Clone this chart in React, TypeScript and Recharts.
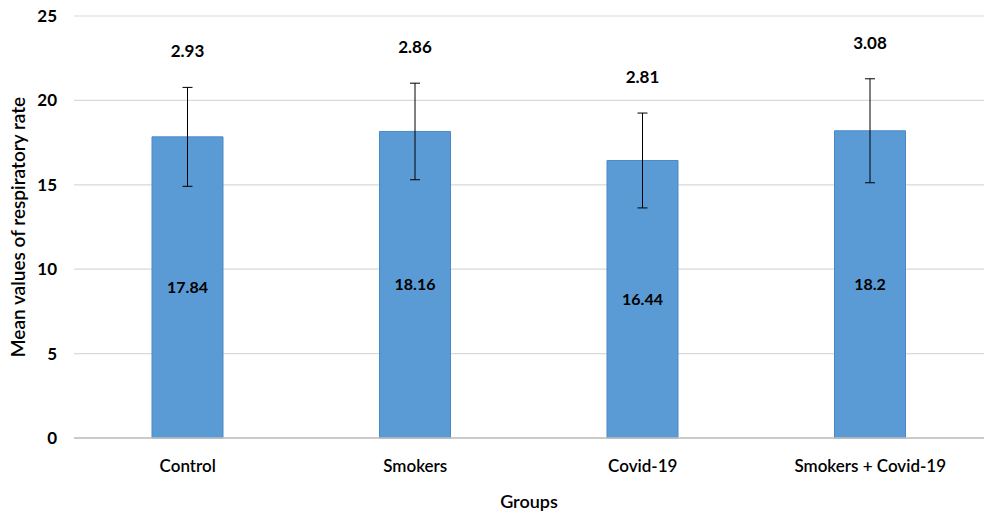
import { BarChart, Bar, XAxis, YAxis, CartesianGrid, ErrorBar, LabelList } from "recharts";

const groups = ["Control", "Smokers", "Covid-19", "Smokers + Covid-19"];
const means = [17.84, 18.16, 16.44, 18.2];
const sds = [2.93, 2.86, 2.81, 3.08];
const yTicks = [0, 5, 10, 15, 20, 25];

const data = groups.map((g, i) => ({ group: g, mean: means[i], sd: sds[i] }));

const FONT = "Lato, 'Open Sans', sans-serif";

// sd label sits above the error bar top
const SdLabel = (props: any) => {
  const { x, y, width, height, index } = props;
  const d = data[index];
  const top = y - (d.sd * height) / d.mean;
  return (
    <text
      x={x + width / 2}
      y={top - 30}
      textAnchor="middle"
      fontSize={17}
      fontWeight={700}
      fill="#000"
      fontFamily={FONT}
    >
      {d.sd}
    </text>
  );
};

export default function App() {
  return (
    <div style={{ position: "absolute", left: 0, top: 0, background: "#fff" }}>
      <BarChart
        width={986}
        height={522}
        data={data}
        margin={{ top: 16, right: 2, bottom: 54, left: 0 }}
      >
        <CartesianGrid vertical={false} stroke="#d9d9d9" strokeWidth={1.2} />
        <XAxis
          dataKey="group"
          axisLine={{ stroke: "#bfbfbf", strokeWidth: 1.5 }}
          tickLine={false}
          tickMargin={16}
          tick={{ fontSize: 17, fontWeight: 600, fill: "#000", fontFamily: FONT }}
          label={{
            value: "Groups",
            position: "insideBottom",
            offset: -40,
            fontSize: 18,
            fontWeight: 600,
            fill: "#000",
            fontFamily: FONT,
          }}
        />
        <YAxis
          width={74}
          domain={[0, 25]}
          ticks={yTicks}
          axisLine={false}
          tickLine={false}
          tickMargin={11}
          tick={{ fontSize: 17, fontWeight: 700, fill: "#000", fontFamily: FONT }}
          label={{
            value: "Mean values of respiratory rate",
            angle: -90,
            position: "insideLeft",
            offset: 18,
            style: { textAnchor: "middle" },
            fontSize: 19,
            fontWeight: 600,
            fill: "#000",
            fontFamily: FONT,
          }}
        />
        <Bar
          dataKey="mean"
          fill="#5b9bd5"
          stroke="#4a89c8"
          strokeWidth={1}
          barSize={71}
          isAnimationActive={false}
        >
          <ErrorBar dataKey="sd" width={5} stroke="#000" strokeWidth={1} direction="y" />
          <LabelList
            dataKey="mean"
            position="center"
            fontSize={16}
            fontWeight={700}
            fill="#000"
            fontFamily={FONT}
          />
          <LabelList dataKey="sd" content={SdLabel} />
        </Bar>
      </BarChart>
    </div>
  );
}
